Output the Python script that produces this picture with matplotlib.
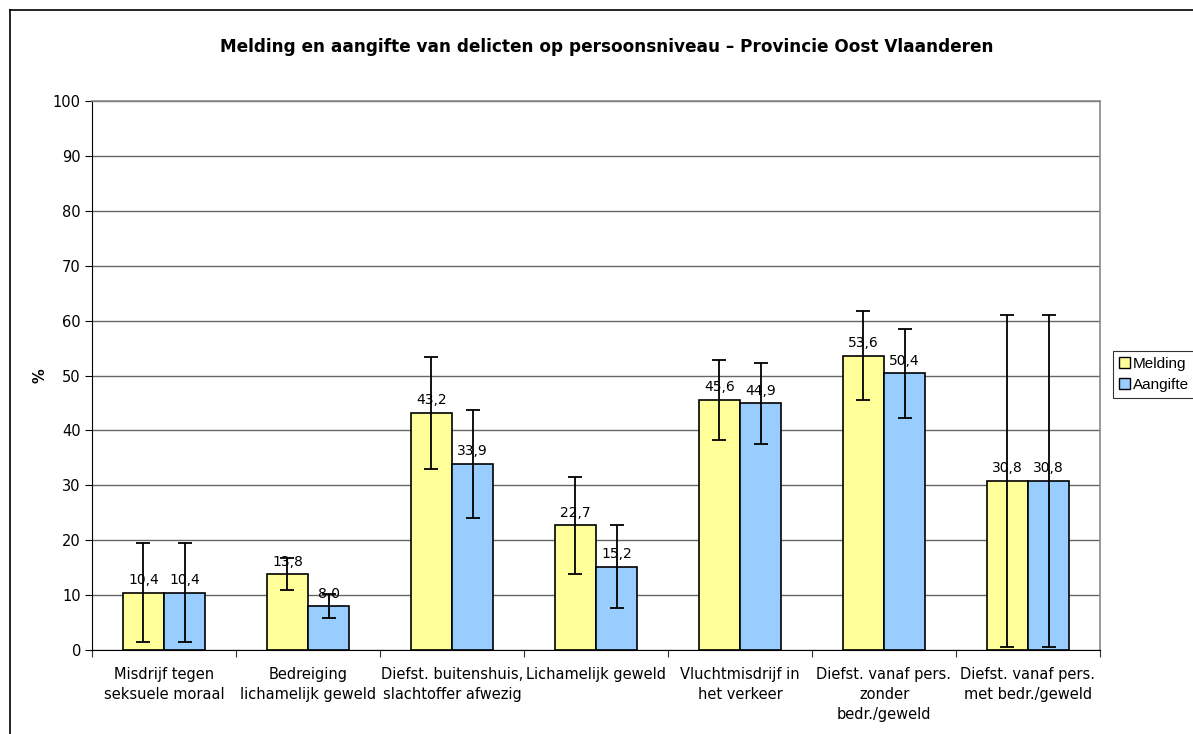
import matplotlib
matplotlib.use("Agg")
import matplotlib.pyplot as plt
import numpy as np
from matplotlib.lines import Line2D
from matplotlib.patches import Patch

plt.rcParams['font.family'] = ['DejaVu Sans']

categories = ["Misdrijf tegen\nseksuele moraal", "Bedreiging\nlichamelijk geweld",
              "Diefst. buitenshuis,\nslachtoffer afwezig", "Lichamelijk geweld",
              "Vluchtmisdrijf in\nhet verkeer", "Diefst. vanaf pers.\nzonder\nbedr./geweld",
              "Diefst. vanaf pers.\nmet bedr./geweld"]
melding = [10.4, 13.8, 43.2, 22.7, 45.6, 53.6, 30.8]
aangifte = [10.4, 8.0, 33.9, 15.2, 44.9, 50.4, 30.8]
melding_err = [9.0, 2.9, 10.2, 8.9, 7.3, 8.1, 30.2]
aangifte_err = [9.0, 2.2, 9.8, 7.6, 7.4, 8.1, 30.2]
series_names = ["Melding", "Aangifte"]
title = "Melding en aangifte van delicten op persoonsniveau \u2013 Provincie Oost Vlaanderen"

W, H = 1193, 734
fig = plt.figure(figsize=(W / 100, H / 100), dpi=100)
ax = fig.add_axes([92 / W, 1 - 650 / H, (1100 - 92) / W, (650 - 101) / H])

x = np.arange(len(categories))
bw = 0.285
c1, c2 = "#FFFF99", "#99CCFF"
ax.bar(x - bw / 2, melding, bw, color=c1, edgecolor="black", linewidth=1.2, zorder=3)
ax.bar(x + bw / 2, aangifte, bw, color=c2, edgecolor="black", linewidth=1.2, zorder=3)
ax.errorbar(x - bw / 2, melding, yerr=melding_err, fmt="none", ecolor="black",
            elinewidth=1.3, capsize=5, capthick=1.3, zorder=4)
ax.errorbar(x + bw / 2, aangifte, yerr=aangifte_err, fmt="none", ecolor="black",
            elinewidth=1.3, capsize=5, capthick=1.3, zorder=4)
for xi, v in zip(x - bw / 2, melding):
    ax.annotate(f"{v:.1f}".replace(".", ","), (xi, v), xytext=(0, 4), textcoords="offset points",
                ha="center", va="bottom", fontsize=10, zorder=5)
for xi, v in zip(x + bw / 2, aangifte):
    ax.annotate(f"{v:.1f}".replace(".", ","), (xi, v), xytext=(0, 4), textcoords="offset points",
                ha="center", va="bottom", fontsize=10, zorder=5)

ax.set_xlim(-0.5, len(categories) - 0.5)
ax.set_ylim(0, 100)
ax.set_yticks(np.arange(0, 101, 10))
ax.yaxis.grid(True, color="#666666", linewidth=1.0, zorder=0)
ax.set_axisbelow(True)
ax.set_xticks(np.arange(-0.5, len(categories), 1.0))
ax.set_xticklabels([])
ax.set_xticks(x, minor=True)
ax.set_xticklabels(categories, minor=True, fontsize=10.5, linespacing=1.45)
ax.tick_params(axis="x", which="minor", length=0, pad=12)
ax.tick_params(axis="x", which="major", length=5, direction="out", color="#333333")
ax.tick_params(axis="y", length=5, direction="out", labelsize=10.5, pad=3)
for s in ["top", "right"]:
    ax.spines[s].set_color("#888888")
    ax.spines[s].set_linewidth(1.2)
ax.spines["left"].set_color("black")
ax.spines["bottom"].set_color("black")
ax.set_ylabel("%", fontsize=10.5, fontweight="bold", labelpad=4)

fig.text(607 / W, 1 - 47 / H, title, ha="center", va="center",
         fontsize=12.2, fontweight="bold")

handles = [Patch(facecolor=c1, edgecolor="black"), Patch(facecolor=c2, edgecolor="black")]
leg = fig.legend(handles, series_names, loc="upper left",
                 bbox_to_anchor=(1113 / W, 1 - 351 / H), frameon=True,
                 prop={"family": "Liberation Sans", "size": 11},
                 fancybox=False, edgecolor="black", handlelength=0.7, handleheight=0.7,
                 handletextpad=0.2, borderpad=0.4, labelspacing=0.45, borderaxespad=0)
leg.get_frame().set_linewidth(0.8)

fig.add_artist(Line2D([10 / W, 10 / W], [0, 1 - 10 / H], color="black", linewidth=1.2,
                      transform=fig.transFigure))
fig.add_artist(Line2D([10 / W, 1], [1 - 10 / H, 1 - 10 / H], color="black", linewidth=1.2,
                      transform=fig.transFigure))

fig.savefig("out.png", dpi=100)
